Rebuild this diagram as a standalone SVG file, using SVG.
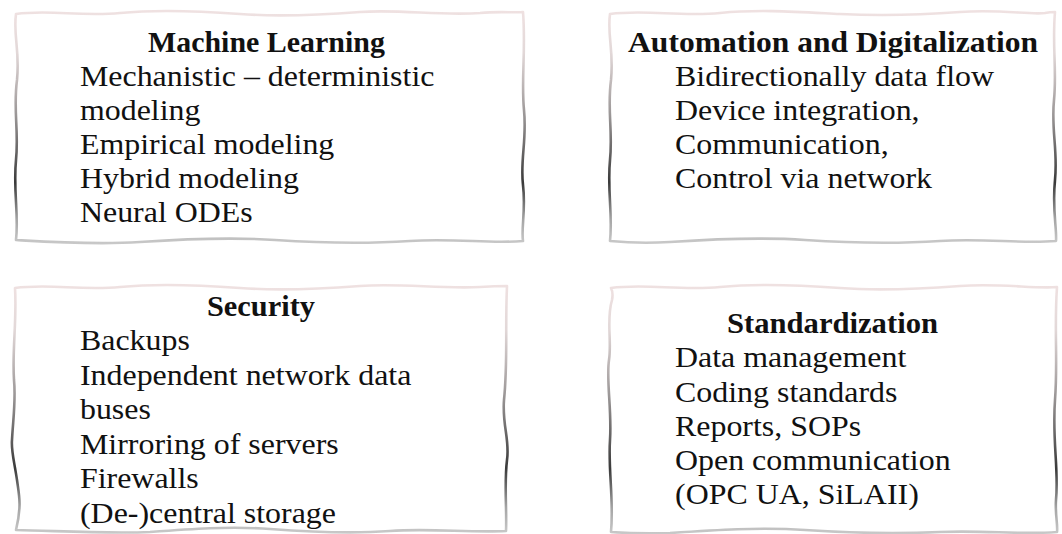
<svg xmlns="http://www.w3.org/2000/svg" width="1062" height="534" viewBox="0 0 1062 534">
<style>
.box{fill:#ffffff;stroke:url(#edge);stroke-width:2.6;stroke-linejoin:round}
.t{font-family:"Liberation Serif","Times New Roman",serif;font-size:28.5px;fill:#111111}
.h{font-weight:bold;text-anchor:middle}
</style>
<defs>
<linearGradient id="edge" x1="0" y1="0" x2="0" y2="1">
<stop offset="0" stop-color="#efe1e1"/>
<stop offset="0.18" stop-color="#e2d8d8"/>
<stop offset="0.45" stop-color="#9a9696"/>
<stop offset="0.74" stop-color="#3a3a3a"/>
<stop offset="0.9" stop-color="#a6a6a6"/>
<stop offset="1" stop-color="#c8c8c8"/>
</linearGradient>
</defs>
<rect width="1062" height="534" fill="#ffffff"/>
<g id="machine-learning">
<path class="box" d="M16,14 C50,9 80,17 120,13 C160,9 200,11 240,14 C280,17 320,15 360,12 C400,9 440,16 480,13 C500,11 515,13 523,12 C526,50 521,80 524,110 C527,140 520,160 523,185 C526,210 521,228 523,241 C490,244 455,238 410,241 C365,244 320,243 275,240 C230,237 185,239 140,242 C95,245 50,242 16,240 C19,215 13,190 16,160 C19,130 13,110 17,80 C20,50 13,35 16,14 Z"/>
<g class="t" transform="scale(1.12 1)">
<text class="h" x="237.9" y="52" textLength="211.6" lengthAdjust="spacingAndGlyphs">Machine Learning</text>
<text x="71.4" y="86">Mechanistic – deterministic</text>
<text x="71.4" y="120">modeling</text>
<text x="71.4" y="154">Empirical modeling</text>
<text x="71.4" y="188">Hybrid modeling</text>
<text x="71.4" y="222">Neural ODEs</text>
</g>
</g>
<g id="automation-digitalization">
<path class="box" d="M610,14 C645,9 680,17 720,13 C760,9 800,12 840,14 C880,16 920,15 960,12 C1000,9 1030,15 1045,13 C1050,12 1053,12 1055,12 C1052,45 1057,70 1054,100 C1051,130 1058,150 1055,180 C1052,210 1057,228 1056,241 C1020,244 985,238 940,241 C895,244 850,243 805,240 C760,237 715,239 670,242 C640,244 620,242 610,241 C613,215 607,190 610,160 C613,130 607,110 611,80 C614,50 607,35 610,14 Z"/>
<g class="t" transform="scale(1.12 1)">
<text class="h" x="743.8" y="52.5" textLength="366" lengthAdjust="spacingAndGlyphs">Automation and Digitalization</text>
<text x="602.7" y="86.5">Bidirectionally data flow</text>
<text x="602.7" y="120.5">Device integration,</text>
<text x="602.7" y="154.5">Communication,</text>
<text x="602.7" y="188.5">Control via network</text>
</g>
</g>
<g id="security">
<path class="box" d="M15,288 C50,283 80,291 120,287 C160,283 200,285 240,288 C280,291 320,289 360,286 C400,283 440,289 480,287 C495,286 502,286 507,286 C505,330 508,360 504,400 C502,425 510,440 507,460 C504,485 507,510 506,531 C470,533 430,528 390,531 C350,534 310,532 270,529 C230,526 190,529 150,532 C110,534 60,531 16,530 C22,505 19,495 17,480 C14,460 11,450 12,440 C13,420 16,400 14,380 C12,350 17,320 15,288 Z"/>
<g class="t" transform="scale(1.12 1)">
<text class="h" x="233" y="316" textLength="96.4" lengthAdjust="spacingAndGlyphs">Security</text>
<text x="71.4" y="350.5">Backups</text>
<text x="71.4" y="385">Independent network data</text>
<text x="71.4" y="419.5">buses</text>
<text x="71.4" y="454">Mirroring of servers</text>
<text x="71.4" y="488.5">Firewalls</text>
<text x="71.4" y="523">(De-)central storage</text>
</g>
</g>
<g id="standardization">
<path class="box" d="M611,288 C645,283 680,291 720,287 C760,283 800,285 840,288 C880,291 920,289 960,286 C1000,283 1035,289 1057,287 C1054,330 1058,360 1055,400 C1052,440 1059,470 1056,500 C1055,515 1058,525 1057,532 C1020,535 985,530 940,532 C895,534 850,533 805,530 C760,527 715,530 670,533 C645,534 625,533 611,532 C614,500 608,470 610,440 C612,410 606,380 609,360 C612,340 606,320 612,300 C613,295 612,290 611,288 Z"/>
<g class="t" transform="scale(1.12 1)">
<text class="h" x="743.3" y="333" textLength="188.4" lengthAdjust="spacingAndGlyphs">Standardization</text>
<text x="602.7" y="367.5">Data management</text>
<text x="602.7" y="402">Coding standards</text>
<text x="602.7" y="436.5">Reports, SOPs</text>
<text x="602.7" y="470.5">Open communication</text>
<text x="602.7" y="504.5">(OPC UA, SiLAII)</text>
</g>
</g>
<g id="connectors"/>
</svg>
